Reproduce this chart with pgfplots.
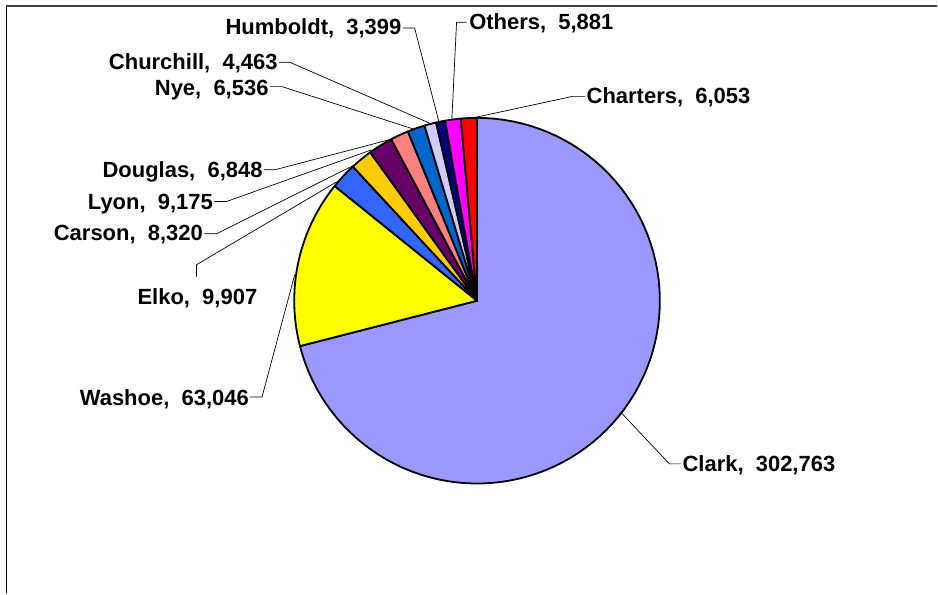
\documentclass[border=0pt]{standalone}
\usepackage{fontspec}
\setmainfont{Liberation Sans}
\usepackage{pgfplots}
\usepackage{pgfplotstable}
\pgfplotsset{compat=1.18}

% slice colours (Excel palette)
\definecolor{c0}{HTML}{9999FF}% Clark
\definecolor{c1}{HTML}{FFFF00}% Washoe
\definecolor{c2}{HTML}{3366FF}% Elko
\definecolor{c3}{HTML}{FFCC00}% Carson
\definecolor{c4}{HTML}{660066}% Lyon
\definecolor{c5}{HTML}{FF8080}% Douglas
\definecolor{c6}{HTML}{0066CC}% Nye
\definecolor{c7}{HTML}{CCCCFF}% Churchill
\definecolor{c8}{HTML}{000080}% Humboldt
\definecolor{c9}{HTML}{FF00FF}% Others
\definecolor{c10}{HTML}{FF0000}% Charters

\pgfplotstableread{
name      value
Clark     302763
Washoe    63046
Elko      9907
Carson    8320
Lyon      9175
Douglas   6848
Nye       6536
Churchill 4463
Humboldt  3399
Others    5881
Charters  6053
}\piedata

% total of all values
\def\total{0}
\pgfplotsforeachungrouped \i in {0,...,10}{%
  \pgfplotstablegetelem{\i}{value}\of\piedata
  \edef\total{\fpeval{\total+\pgfplotsretval}}%
}
% start / end angle of every slice (clockwise from 12 o'clock)
\def\cum{0}
\pgfplotsforeachungrouped \i in {0,...,10}{%
  \pgfplotstablegetelem{\i}{value}\of\piedata
  \expandafter\edef\csname sa\i\endcsname{\fpeval{round(90-\cum/\total*360,4)}}%
  \edef\cum{\fpeval{\cum+\pgfplotsretval}}%
  \expandafter\edef\csname se\i\endcsname{\fpeval{round(90-\cum/\total*360,4)}}%
}

\begin{document}
\begin{tikzpicture}[font=\fontsize{22bp}{26bp}\selectfont\bfseries]
\begin{axis}[
  hide axis, clip=false,
  x=1bp, y=1bp,
  xmin=0, xmax=938, ymin=0, ymax=594,
]
\path (axis cs:0,0) rectangle (axis cs:938,594);

% frame
\draw[black!75, line width=1.8bp] (axis cs:6,{594-6}) -- (axis cs:938,{594-6});
\draw[black, line width=1.8bp] (axis cs:6.5,{594-5.1}) -- (axis cs:6.5,0);

% pie slices
\pgfplotsinvokeforeach{0,...,10}{
  \addplot[draw=black, line width=1.8bp, line join=round, fill=c#1,
    domain=\csname se#1\endcsname:\csname sa#1\endcsname,
    samples=90, variable=\t]
    ({477.5+183*cos(t)}, {293+183*sin(t)}) -- (axis cs:477.5,293) -- cycle;
}

% leader lines
\begin{scope}[line width=0.7bp, black]
\draw (axis cs:403,{594-28}) -- (axis cs:415,{594-28}) -- (axis cs:439.3,{594-121.7});
\draw (axis cs:467,{594-22.3}) -- (axis cs:457,{594-22.3}) -- (axis cs:452.3,{594-119});
\draw (axis cs:586,{594-96.5}) -- (axis cs:573,{594-96.5}) -- (axis cs:476.7,{594-117.3});
\draw (axis cs:279.5,{594-62.3}) -- (axis cs:290,{594-62.3}) -- (axis cs:430,{594-123.3});
\draw (axis cs:270.5,{594-86.7}) -- (axis cs:282.3,{594-86.7}) -- (axis cs:413.3,{594-129});
\draw (axis cs:264.5,{594-170}) -- (axis cs:275,{594-170}) -- (axis cs:393,{594-139});
\draw (axis cs:214.5,{594-201.7}) -- (axis cs:226.7,{594-201.7}) -- (axis cs:372,{594-150});
\draw (axis cs:204.5,{594-234}) -- (axis cs:216.7,{594-234}) -- (axis cs:355,{594-165});
\draw (axis cs:196.7,{594-277}) -- (axis cs:196.7,{594-265}) -- (axis cs:337,{594-182});
\draw (axis cs:250,{594-397.3}) -- (axis cs:262.3,{594-397.3}) -- (axis cs:295,{594-275});
\draw (axis cs:682,{594-464.3}) -- (axis cs:670,{594-464.3}) -- (axis cs:622.7,{594-414});
\end{scope}

% data labels
\node[anchor=base east, inner sep=0] at (axis cs:402,{594-34.6}) {Humboldt,\ \ 3,399};
\node[anchor=base west, inner sep=0] at (axis cs:469.5,{594-29.6}) {Others,\ \ 5,881};
\node[anchor=base west, inner sep=0] at (axis cs:587,{594-103.9}) {Charters,\ \ 6,053};
\node[anchor=base east, inner sep=0] at (axis cs:278,{594-69.9}) {Churchill,\ \ 4,463};
\node[anchor=base east, inner sep=0] at (axis cs:269,{594-95.2}) {Nye,\ \ 6,536};
\node[anchor=base east, inner sep=0] at (axis cs:263,{594-177.9}) {Douglas,\ \ 6,848};
\node[anchor=base east, inner sep=0] at (axis cs:213.3,{594-209.6}) {Lyon,\ \ 9,175};
\node[anchor=base east, inner sep=0] at (axis cs:203.3,{594-241.2}) {Carson,\ \ 8,320};
\node[anchor=base east, inner sep=0] at (axis cs:257.7,{594-304.6}) {Elko,\ \ 9,907};
\node[anchor=base east, inner sep=0] at (axis cs:249.3,{594-405.6}) {Washoe,\ \ 63,046};
\node[anchor=base west, inner sep=0] at (axis cs:683,{594-472.2}) {Clark,\ \ 302,763};
\end{axis}
\end{tikzpicture}
\end{document}
